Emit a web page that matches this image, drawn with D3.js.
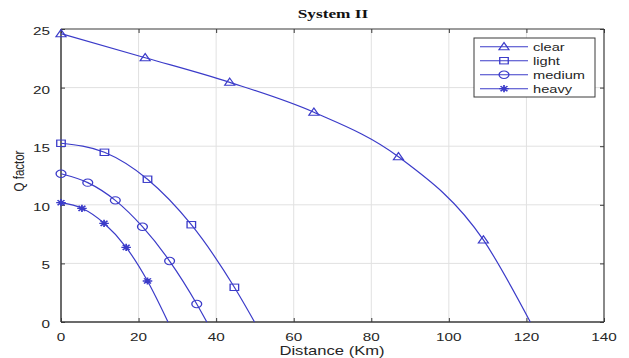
<!DOCTYPE html>
<html>
<head>
<meta charset="utf-8">
<script src="https://cdn.jsdelivr.net/npm/d3@7"></script>
<style>
  html, body { margin: 0; padding: 0; background: #fff; }
  svg { display: block; }
</style>
</head>
<body>
<svg id="chart" width="629" height="358"></svg>
<script>
// ---- data ----
const seriesNames = ["clear", "light", "medium", "heavy"];
const markerTypes = ["triangle", "square", "circle", "asterisk"];

const clearDist  = [0, 21.7, 43.5, 65.2, 87.0, 108.9, 121.0];
const clearQ     = [24.6, 22.55, 20.45, 17.9, 14.1, 7.0, 0];
const lightDist  = [0, 11.2, 22.3, 33.6, 44.7, 49.9];
const lightQ     = [15.25, 14.48, 12.18, 8.3, 2.96, 0];
const mediumDist = [0, 6.9, 14.0, 21.0, 28.0, 35.0, 37.6];
const mediumQ    = [12.65, 11.89, 10.38, 8.13, 5.2, 1.54, 0];
const heavyDist  = [0, 5.4, 11.1, 16.8, 22.3, 27.6];
const heavyQ     = [10.18, 9.7, 8.42, 6.37, 3.5, 0];

const xTicks = [0, 20, 40, 60, 80, 100, 120, 140];
const yTicks = [0, 5, 10, 15, 20, 25];

const titleText = "System II";
const xLabelText = "Distance (Km)";
const yLabelText = "Q factor";

// ---- layout ----
const svg = d3.select("#chart");
const pL = 61, pR = 604, pT = 29, pB = 322;
const SX = 1.33; // horizontal stretch seen in the reference
const lineColor = "#3b3bc9";
const axisColor = "#3a3a3a";
const gridColor = "#e1e1e1";

const x = d3.scaleLinear().domain([0, 140]).range([pL, pR]);
const y = d3.scaleLinear().domain([0, 25]).range([pB, pT]);

const series = [
  { name: seriesNames[0], marker: markerTypes[0], d: clearDist, q: clearQ },
  { name: seriesNames[1], marker: markerTypes[1], d: lightDist, q: lightQ },
  { name: seriesNames[2], marker: markerTypes[2], d: mediumDist, q: mediumQ },
  { name: seriesNames[3], marker: markerTypes[3], d: heavyDist, q: heavyQ }
].map(s => ({ ...s, pts: s.d.map((v, i) => ({ d: v, q: s.q[i] })) }));

// grid
const grid = svg.append("g");
grid.selectAll(".gx").data(xTicks.slice(1, -1)).join("line")
  .attr("x1", d => x(d)).attr("x2", d => x(d))
  .attr("y1", pT).attr("y2", pB)
  .attr("stroke", gridColor).attr("stroke-width", 1);
grid.selectAll(".gy").data(yTicks.slice(1, -1)).join("line")
  .attr("y1", d => y(d)).attr("y2", d => y(d))
  .attr("x1", pL).attr("x2", pR)
  .attr("stroke", gridColor).attr("stroke-width", 1);

// axes with inward ticks
const xAxisB = d3.axisBottom(x).tickValues(xTicks).tickSize(-4).tickFormat(() => "");
const xAxisT = d3.axisTop(x).tickValues(xTicks).tickSize(-4).tickFormat(() => "");
const yAxisL = d3.axisLeft(y).tickValues(yTicks).tickSize(-4).tickFormat(() => "");
const yAxisR = d3.axisRight(y).tickValues(yTicks).tickSize(-4).tickFormat(() => "");

function styleAxis(g) {
  g.select(".domain").remove();
  g.selectAll(".tick line").attr("stroke", axisColor).attr("stroke-width", 1);
}
svg.append("g").attr("transform", `translate(0,${pB})`).call(xAxisB).call(styleAxis);
svg.append("g").attr("transform", `translate(0,${pT})`).call(xAxisT).call(styleAxis);
svg.append("g").attr("transform", `translate(${pL},0)`).call(yAxisL).call(styleAxis);
svg.append("g").attr("transform", `translate(${pR},0)`).call(yAxisR).call(styleAxis);

// box
const box = svg.append("g").attr("stroke", axisColor).attr("fill", "none");
box.append("line").attr("x1", pL).attr("x2", pR).attr("y1", pB).attr("y2", pB).attr("stroke-width", 1.5);
box.append("line").attr("x1", pL).attr("x2", pL).attr("y1", pT).attr("y2", pB).attr("stroke-width", 1.5);
box.append("line").attr("x1", pL).attr("x2", pR).attr("y1", pT).attr("y2", pT).attr("stroke-width", 1.2);
box.append("line").attr("x1", pR).attr("x2", pR).attr("y1", pT).attr("y2", pB).attr("stroke-width", 1.2);

// stretched text helper
function sText(g, tx, ty, str, opts) {
  const t = g.append("text")
    .attr("transform", `translate(${tx},${ty}) scale(${opts.sx || SX},1)`)
    .attr("text-anchor", opts.anchor || "middle")
    .attr("font-family", opts.family || "Liberation Sans, Arial, sans-serif")
    .attr("font-size", opts.size || 11)
    .attr("font-weight", opts.weight || "normal")
    .attr("fill", opts.fill || "#262626")
    .text(str);
  return t;
}

// tick labels
const labels = svg.append("g");
xTicks.forEach(v => sText(labels, x(v), 341, String(v), { size: 11.5 }));
yTicks.forEach(v => sText(labels, 50, y(v) + 6, String(v), { size: 11.5, anchor: "end" }));

// axis titles
sText(labels, 332, 355, xLabelText, { size: 12.5 });
labels.append("text")
  .attr("transform", `translate(24,171) rotate(-90) scale(1,${SX})`)
  .attr("text-anchor", "middle")
  .attr("font-family", "Liberation Sans, Arial, sans-serif")
  .attr("font-size", 11.5)
  .attr("fill", "#262626")
  .text(yLabelText);

// title
sText(svg, 333, 18, titleText, { size: 13, weight: "bold", family: "Liberation Serif, Times New Roman, serif", fill: "#111" });

// lines
const line = d3.line().x(p => x(p.d)).y(p => y(p.q)).curve(d3.curveMonotoneX);
const plot = svg.append("g");
series.forEach(s => {
  plot.append("path").datum(s.pts)
    .attr("d", line)
    .attr("fill", "none")
    .attr("stroke", lineColor)
    .attr("stroke-width", 1.2);
});

// markers
function drawMarker(g, type, cx, cy) {
  const m = g.append("g").attr("transform", `translate(${cx},${cy}) scale(${SX},1)`)
    .attr("fill", "none").attr("stroke", lineColor).attr("stroke-width", 1);
  if (type === "triangle") {
    m.append("path").attr("d", "M0,-4.2L3.8,3L-3.8,3Z");
  } else if (type === "square") {
    m.append("rect").attr("x", -3.2).attr("y", -3.2).attr("width", 6.4).attr("height", 6.4);
  } else if (type === "circle") {
    m.append("circle").attr("r", 3.7);
  } else {
    const r = 3.6, r2 = 2.6;
    m.append("path").attr("d", `M${-r},0H${r}M0,${-r}V${r}M${-r2},${-r2}L${r2},${r2}M${-r2},${r2}L${r2},${-r2}`).attr("stroke-width", 1.3);
  }
}
series.forEach(s => {
  s.pts.slice(0, -1).forEach(p => drawMarker(plot, s.marker, x(p.d), y(p.q)));
});

// legend
const lg = svg.append("g");
const lgX = 474, lgY = 38, lgW = 121, lgH = 59;
lg.append("rect").attr("x", lgX).attr("y", lgY).attr("width", lgW).attr("height", lgH)
  .attr("fill", "#fff").attr("stroke", axisColor).attr("stroke-width", 1);
series.forEach((s, i) => {
  const ry = 46.7 + i * 14;
  lg.append("line").attr("x1", 480).attr("x2", 528).attr("y1", ry).attr("y2", ry)
    .attr("stroke", lineColor).attr("stroke-width", 1.1);
  drawMarker(lg, s.marker, 504, ry);
  sText(lg, 533, ry + 4, s.name, { size: 11, anchor: "start" });
});
</script>
</body>
</html>
